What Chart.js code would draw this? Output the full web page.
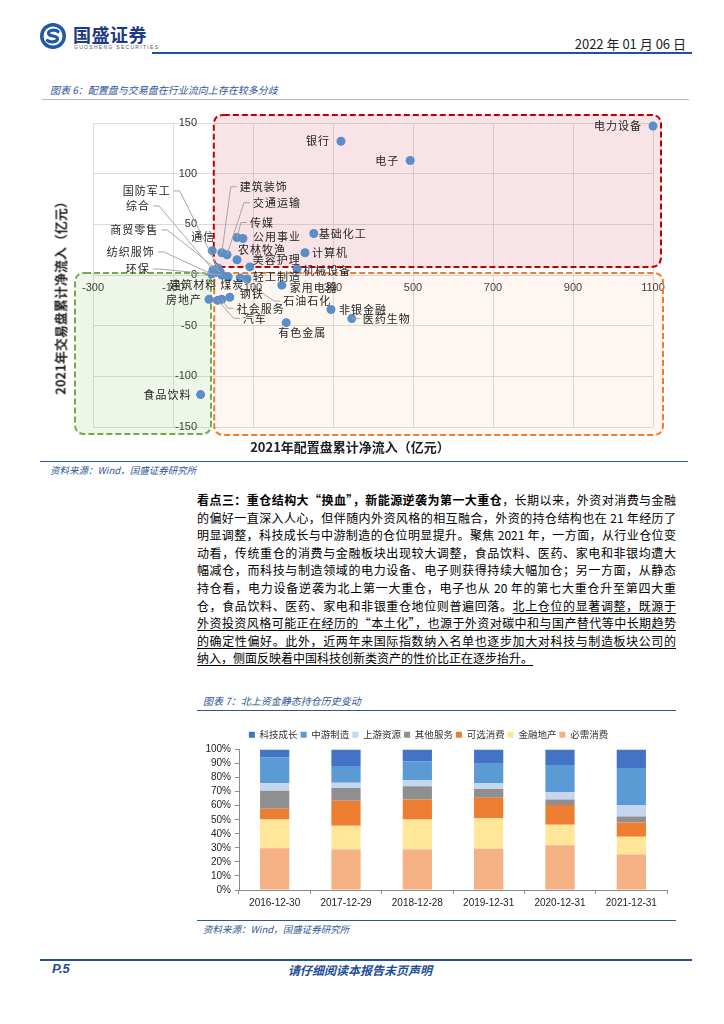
<!DOCTYPE html>
<html lang="zh-CN">
<head>
<meta charset="utf-8">
<title>国盛证券 P.5</title>
<script src="https://cdn.jsdelivr.net/npm/chart.js@4.4.1/dist/chart.umd.min.js"></script>
<style>
  html, body { margin: 0; padding: 0; background: #fff; }
  body { width: 724px; height: 1024px; position: relative; overflow: hidden;
         font-family: "Noto Sans CJK SC", "Noto Sans", sans-serif; color: #000; }
  .abs { position: absolute; white-space: nowrap; }
  .brand { left: 73px; top: 21px; font-size: 18px; font-weight: 700; color: #1d3a82; letter-spacing: 0.5px; }
  .brand-en { left: 74px; top: 44px; font-size: 5px; color: #555; letter-spacing: 1.3px; font-family: "Liberation Sans"; }
  .date { right: 38px; top: 34px; font-size: 13px; color: #222; }
  .rule { position: absolute; height: 0; }
  .fig-title { font-size: 10px; font-style: italic; color: #2f5597; }
  .source { font-size: 9.5px; font-style: italic; color: #2f5597; }
  .axis-title { font-size: 13px; font-weight: 700; color: #222; transform-origin: center; }
  .para { position: absolute; left: 197px; top: 491px; width: 479px; font-size: 12px; line-height: 17.6px; }
  .para div { text-align: justify; text-align-last: justify; height: 17.6px; }
  .para div.last { text-align-last: left; }
  .u { text-decoration: underline; text-underline-offset: 2px; }
  .foot { font-size: 12px; font-style: italic; font-weight: 700; color: #1f4e9a; }
</style>
</head>
<body>

<!-- header -->
<svg class="abs" style="left:39px;top:22px" width="28" height="28" viewBox="0 0 28 28">
  <circle cx="14" cy="14" r="13" fill="#1e5aa8"/>
  <circle cx="14" cy="14" r="9.5" fill="#fff"/>
  <path d="M19 9.5 C17 7.5 9 7.5 9.5 11.5 C10 15 19 13 18.5 17 C18 20.5 10 20.5 8.5 18.5"
        fill="none" stroke="#1e5aa8" stroke-width="3.2" stroke-linecap="round"/>
</svg>
<div class="abs brand">国盛证券</div>
<div class="abs brand-en">GUOSHENG SECURITIES</div>
<div class="abs date">2022 年 01 月 06 日</div>
<div class="rule" style="left:152px;top:52px;width:540px;border-top:2px solid #2050a0"></div>

<!-- figure 6 -->
<div class="abs fig-title" style="left:50px;top:82px">图表 6：配置盘与交易盘在行业流向上存在较多分歧</div>
<div class="rule" style="left:42px;top:99px;width:647px;border-top:1px solid #a9bbdc"></div>
<div class="abs" style="left:40px;top:100px;width:660px;height:360px"><canvas id="scatterChart"></canvas></div>
<div class="abs axis-title" style="left:60px;top:295px;transform:translate(-50%,-50%) rotate(-90deg)">2021年交易盘累计净流入（亿元）</div>
<div class="abs axis-title" style="left:350px;top:446px;transform:translate(-50%,-50%)">2021年配置盘累计净流入（亿元）</div>
<div class="rule" style="left:40px;top:461px;width:648px;border-top:1.5px solid #2f5597"></div>
<div class="abs source" style="left:50px;top:463px">资料来源：Wind，国盛证券研究所</div>

<!-- text -->
<div class="para">
  <div><b>看点三：重仓结构大“换血”，新能源逆袭为第一大重仓</b>，长期以来，外资对消费与金融</div>
  <div>的偏好一直深入人心，但伴随内外资风格的相互融合，外资的持仓结构也在 21 年经历了</div>
  <div>明显调整，科技成长与中游制造的仓位明显提升。聚焦 2021 年，一方面，从行业仓位变</div>
  <div>动看，传统重仓的消费与金融板块出现较大调整，食品饮料、医药、家电和非银均遭大</div>
  <div>幅减仓，而科技与制造领域的电力设备、电子则获得持续大幅加仓；另一方面，从静态</div>
  <div>持仓看，电力设备逆袭为北上第一大重仓，电子也从 20 年的第七大重仓升至第四大重</div>
  <div>仓，食品饮料、医药、家电和非银重仓地位则普遍回落。<span class="u">北上仓位的显著调整，既源于</span></div>
  <div><span class="u">外资投资风格可能正在经历的“本土化”，也源于外资对碳中和与国产替代等中长期趋势</span></div>
  <div><span class="u">的确定性偏好。此外，近两年来国际指数纳入名单也逐步加大对科技与制造板块公司的</span></div>
  <div class="last"><span class="u">纳入，侧面反映着中国科技创新类资产的性价比正在逐步抬升。</span></div>
</div>

<!-- figure 7 -->
<div class="abs fig-title" style="left:203px;top:693px">图表 7：北上资金静态持仓历史变动</div>
<div class="rule" style="left:197px;top:710px;width:479px;border-top:1.5px solid #2f5597"></div>
<div class="abs" style="left:190px;top:727px;width:500px;height:191px"><canvas id="barChart"></canvas></div>
<div class="rule" style="left:197px;top:920px;width:479px;border-top:1.5px solid #2f5597"></div>
<div class="abs source" style="left:203px;top:922px">资料来源：Wind，国盛证券研究所</div>

<!-- footer -->
<div class="rule" style="left:40px;top:959px;width:652px;border-top:2px solid #2050a0"></div>
<div class="abs foot" style="left:52px;top:961px;font-size:13px;font-family:'Liberation Sans'">P.5</div>
<div class="abs foot" style="left:360px;top:961px;transform:translateX(-50%)">请仔细阅读本报告末页声明</div>

<script>
// ---- 图表6 数据：行业、配置盘(x)、交易盘(y)，单位亿元 ----
const industries = ['电力设备', '银行', '电子', '基础化工', '计算机', '机械设备', '非银金融', '医药生物',
    '有色金属', '家用电器', '食品饮料', '通信', '建筑装饰', '交通运输', '传媒', '公用事业',
    '农林牧渔', '美容护理', '轻工制造', '石油石化', '煤炭', '钢铁', '社会服务', '汽车',
    '房地产', '建筑材料', '国防军工', '综合', '商贸零售', '纺织服饰', '环保'];
const allocFlow = [1100, 320, 493, 252, 230, 210, 295, 347,
    183, 172, -31, -2, 22, 35, 60, 75,
    60, 92, 85, 68, 38, 42, 22, 12,
    -10, 8, 12, 0, 18, -3, 22];
const tradeFlow = [147, 132, 113, 41, 22, 6, -34, -43,
    -47, -10, -118, 24, 22, 20, 37, 36,
    15, 8, -4, -3, -2, -22, -24, -25,
    -24, 3, 7, 5, 3, 1, 0];
const xMin = -300, xMax = 1100, xStep = 200;
const yMin = -150, yMax = 150, yStep = 50;

// ---- 图表7 数据：北上资金持仓结构 (%) ----
const periods = ['2016-12-30', '2017-12-29', '2018-12-28', '2019-12-31', '2020-12-31', '2021-12-31'];
const techGrowth = [5.5, 11.7, 8.3, 10.2, 11.0, 13.1];
const midstreamMfg = [18.5, 11.9, 13.4, 13.8, 19.2, 26.4];
const upstreamRes = [5.3, 3.8, 4.5, 4.1, 5.3, 8.1];
const otherServices = [12.8, 9.0, 9.3, 6.2, 4.0, 4.3];
const optionalCons = [7.7, 17.9, 14.3, 14.7, 14.1, 10.2];
const financeRE = [20.4, 16.9, 21.4, 21.7, 14.5, 12.7];
const essentialCons = [29.8, 28.8, 28.8, 29.3, 31.9, 25.2];

// 标签摆放（像素偏移，相对于点）
const labelLayout = {
    '电力设备': { dx: -11, dy: 0, align: 'right' },
    '银行': { dx: -11, dy: 0, align: 'right' },
    '电子': { dx: -11, dy: 0, align: 'right' },
    '基础化工': { dx: 5, dy: 0, align: 'left' },
    '计算机': { dx: 7, dy: 0, align: 'left' },
    '机械设备': { dx: 6, dy: 2, align: 'left' },
    '非银金融': { dx: 8, dy: 0, align: 'left' },
    '医药生物': { dx: 11, dy: 0, align: 'left', leader: true },
    '有色金属': { dx: 16, dy: 10, align: 'center' },
    '家用电器': { dx: 8, dy: 3, align: 'left' },
    '食品饮料': { dx: -9, dy: 0, align: 'right' },
    '通信': { dx: 3, dy: -14, align: 'right' },
    '建筑装饰': { dx: 18, dy: -66, align: 'left', leader: true },
    '交通运输': { dx: 26, dy: -52, align: 'left', leader: true },
    '传媒': { dx: 13, dy: -15, align: 'left', leader: true },
    '公用事业': { dx: 10, dy: -2, align: 'left' },
    '农林牧渔': { dx: 1, dy: -10, align: 'left' },
    '美容护理': { dx: 3, dy: -7, align: 'left' },
    '轻工制造': { dx: 6, dy: -2, align: 'left' },
    '石油石化': { dx: 43, dy: 23, align: 'left', leader: true },
    '煤炭': { dx: -8, dy: 8, align: 'left' },
    '钢铁': { dx: 10, dy: -3, align: 'left' },
    '社会服务': { dx: 15, dy: 9, align: 'left', leader: true },
    '汽车': { dx: 25, dy: 18, align: 'left', leader: true },
    '房地产': { dx: -7, dy: 0, align: 'right' },
    '建筑材料': { dx: 1, dy: 13, align: 'right' },
    '国防军工': { dx: -47, dy: -77, align: 'right', leader: true },
    '综合': { dx: -63, dy: -64, align: 'right', leader: true },
    '商贸零售': { dx: -62, dy: -42, align: 'right', leader: true },
    '纺织服饰': { dx: -57, dy: -22, align: 'right', leader: true },
    '环保': { dx: -72, dy: -6, align: 'right', leader: true }
};

// 三个分区（数据坐标）
const zones = [
    { x0: 2, x1: 1120, y0: 8, y1: 158, stroke: '#c00000', fill: 'rgba(215,90,110,0.17)' },
    { x0: 3, x1: 1125, y0: -158, y1: 2, stroke: '#ed7d31', fill: 'rgba(244,170,120,0.10)' },
    { x0: -345, x1: -5, y0: -157, y1: 2, stroke: '#70ad47', fill: 'rgba(112,173,71,0.12)' }
];

function roundRectPath(ctx, x, y, w, h, r) {
    ctx.beginPath();
    ctx.moveTo(x + r, y);
    ctx.lineTo(x + w - r, y);
    ctx.quadraticCurveTo(x + w, y, x + w, y + r);
    ctx.lineTo(x + w, y + h - r);
    ctx.quadraticCurveTo(x + w, y + h, x + w - r, y + h);
    ctx.lineTo(x + r, y + h);
    ctx.quadraticCurveTo(x, y + h, x, y + h - r);
    ctx.lineTo(x, y + r);
    ctx.quadraticCurveTo(x, y, x + r, y);
    ctx.closePath();
}

const zonePlugin = {
    id: 'zones',
    beforeDatasetsDraw(chart) {
        const { ctx, scales: { x, y } } = chart;
        ctx.save();
        zones.forEach(z => {
            const left = x.getPixelForValue(z.x0), right = x.getPixelForValue(z.x1);
            const top = y.getPixelForValue(z.y1), bottom = y.getPixelForValue(z.y0);
            roundRectPath(ctx, left, top, right - left, bottom - top, 10);
            ctx.fillStyle = z.fill;
            ctx.fill();
            ctx.setLineDash([6, 3]);
            ctx.lineWidth = 2;
            ctx.strokeStyle = z.stroke;
            ctx.stroke();
        });
        ctx.restore();
    }
};

const labelPlugin = {
    id: 'pointLabels',
    afterDatasetsDraw(chart) {
        const { ctx } = chart;
        const meta = chart.getDatasetMeta(0);
        ctx.save();
        ctx.font = '11px "Noto Sans CJK SC"';
        ctx.letterSpacing = '1px';
        ctx.textBaseline = 'middle';
        meta.data.forEach((pt, i) => {
            const name = industries[i];
            const lay = labelLayout[name] || { dx: 8, dy: 0, align: 'left' };
            const lx = pt.x + lay.dx, ly = pt.y + lay.dy;
            if (lay.leader) {
                const dir = lay.align === 'right' ? 1 : -1;
                ctx.beginPath();
                ctx.moveTo(lx + dir * 3, ly);
                ctx.lineTo(lx + dir * 9, ly);
                ctx.lineTo(pt.x, pt.y);
                ctx.strokeStyle = '#a6a6a6';
                ctx.lineWidth = 1;
                ctx.stroke();
            }
            ctx.fillStyle = '#262626';
            ctx.textAlign = lay.align;
            ctx.fillText(name, lx, ly);
        });
        ctx.restore();
    }
};

new Chart(document.getElementById('scatterChart'), {
    type: 'scatter',
    data: {
        datasets: [{
            label: '行业',
            data: industries.map((n, i) => ({ x: allocFlow[i], y: tradeFlow[i] })),
            backgroundColor: '#5b8dc9',
            borderWidth: 0,
            pointRadius: 4.5,
            clip: false
        }]
    },
    options: {
        responsive: true,
        maintainAspectRatio: false,
        animation: false,
        events: [],
        layout: { padding: { left: 53, right: 47, top: 23, bottom: 33 } },
        scales: {
            x: {
                type: 'linear', position: { y: 0 },
                min: xMin, max: xMax,
                ticks: { stepSize: xStep, color: '#333', padding: 6, callback: v => String(v),
                         font: { family: 'Liberation Sans', size: 11 } },
                grid: { color: '#dcdcdc', drawTicks: false },
                border: { display: false }
            },
            y: {
                // 标签放在 y 轴左侧约 16px 处
                type: 'linear', position: { x: -40 },
                min: yMin, max: yMax,
                ticks: { stepSize: yStep, color: '#333', callback: v => String(v),
                         font: { family: 'Liberation Sans', size: 11 } },
                grid: { color: '#dcdcdc', drawTicks: false },
                border: { display: false }
            }
        },
        plugins: { legend: { display: false }, tooltip: { enabled: false } }
    },
    plugins: [zonePlugin, labelPlugin]
});

// ---- 图表7 ----
const sectorSeries = [
    { label: '必需消费', data: essentialCons, color: '#f4b183' },
    { label: '金融地产', data: financeRE, color: '#ffe699' },
    { label: '可选消费', data: optionalCons, color: '#ed7d31' },
    { label: '其他服务', data: otherServices, color: '#8f8f8f' },
    { label: '上游资源', data: upstreamRes, color: '#c5d6ef' },
    { label: '中游制造', data: midstreamMfg, color: '#5b9bd5' },
    { label: '科技成长', data: techGrowth, color: '#4472c4' }
];

new Chart(document.getElementById('barChart'), {
    type: 'bar',
    data: {
        labels: periods,
        datasets: sectorSeries.map(s => ({
            label: s.label,
            data: s.data,
            backgroundColor: s.color,
            borderWidth: 0,
            categoryPercentage: 0.82,
            barPercentage: 0.5
        }))
    },
    options: {
        responsive: true,
        maintainAspectRatio: false,
        animation: false,
        events: [],
        layout: { padding: { left: 0, right: 23, top: 0, bottom: 0 } },
        scales: {
            x: {
                stacked: true,
                ticks: { color: '#222', padding: 3, font: { family: 'Liberation Sans', size: 10 } },
                grid: { drawOnChartArea: false, tickLength: 4, color: '#8c8c8c' },
                border: { color: '#8c8c8c' },
                afterFit(scale) { scale.height = 28; }
            },
            y: {
                stacked: true, min: 0, max: 100,
                ticks: { stepSize: 10, autoSkip: false, color: '#222', padding: 4, callback: v => v + '%',
                         font: { family: 'Liberation Sans', size: 10 } },
                grid: { drawOnChartArea: false, tickLength: 4, color: '#8c8c8c' },
                border: { color: '#8c8c8c' },
                afterFit(scale) { scale.width = 49; }
            }
        },
        plugins: {
            legend: {
                position: 'top', reverse: true,
                labels: { boxWidth: 6, boxHeight: 6, padding: 3, color: '#333',
                          font: { family: 'Noto Sans CJK SC', size: 9.5 } }
            },
            tooltip: { enabled: false }
        }
    }
});
</script>
</body>
</html>
